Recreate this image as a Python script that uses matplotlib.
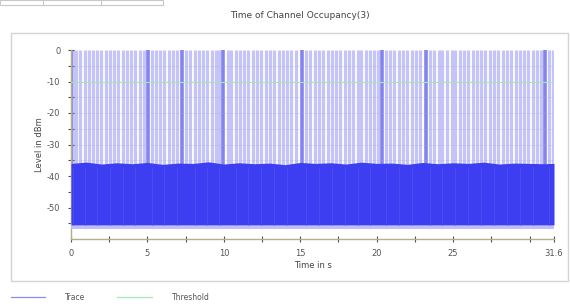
import matplotlib
matplotlib.use("Agg")
import matplotlib.pyplot as plt
from matplotlib.lines import Line2D
from matplotlib.patches import Rectangle

plt.rcParams["axes.unicode_minus"] = False

# values
title = "Time of Channel Occupancy(3)"
x_ticks = [0, 5, 10, 15, 20, 25, 31.6]
x_tick_labels = ["0", "5", "10", "15", "20", "25", "31.6"]
x_minor = [2.5, 7.5, 12.5, 17.5, 22.5, 27.5, 30]
y_ticks = [0, -10, -20, -30, -40, -50]
y_minor = [-5, -15, -25, -35, -45, -55]
threshold = -10

# noise floor of the trace (top edge sampled once per second, bottom flat)
band_t = [0, 1, 2, 3, 4, 5, 6, 7, 8, 9, 10, 11, 12, 13, 14, 15, 16,
          17, 18, 19, 20, 21, 22, 23, 24, 25, 26, 27, 28, 29, 30, 31, 31.6]
band_top = [-36.0, -35.6, -36.2, -35.8, -36.1, -35.7, -36.3, -35.9, -36.0,
            -35.5, -36.2, -35.8, -36.1, -35.9, -36.4, -35.7, -36.0, -35.8,
            -36.2, -35.6, -36.0, -35.9, -36.3, -35.7, -36.1, -35.8, -36.0,
            -35.6, -36.2, -35.9, -36.0, -36.1, -36.0]
band_bottom = -55.5

# short bursts reaching 0 dBm (light) and the stronger ones (dark)
light_spikes = [0.1, 0.35, 0.6, 0.9, 1.15, 1.45, 1.7, 1.95, 2.3, 2.55, 2.8,
                3.1, 3.4, 3.65, 3.9, 4.2, 4.5, 4.75, 5.3, 5.55, 5.85, 6.1,
                6.4, 6.7, 6.95, 7.55, 7.8, 8.1, 8.35, 8.65, 8.9, 9.2, 9.5,
                9.7, 10.25, 10.5, 10.8, 11.05, 11.35, 11.6, 11.9, 12.2,
                12.45, 12.75, 13.0, 13.3, 13.6, 13.85, 14.15, 14.4, 14.7,
                15.4, 15.65, 15.95, 16.2, 16.5, 16.8, 17.05, 17.35, 17.6,
                17.9, 18.2, 18.45, 18.75, 19.0, 19.3, 19.55, 19.85, 20.1,
                20.6, 20.9, 21.15, 21.45, 21.7, 22.0, 22.3, 22.55, 22.85,
                23.5, 23.75, 24.05, 24.3, 24.6, 24.9, 25.15, 25.45, 25.7,
                26.0, 26.3, 26.55, 26.85, 27.1, 27.4, 27.7, 27.95, 28.25,
                28.5, 28.8, 29.1, 29.35, 29.65, 29.9, 30.2, 30.5, 30.75,
                31.3, 31.55]
dark_spikes = [0.02, 5.04, 7.26, 9.95, 15.1, 20.35, 23.2, 31.0]
spike_top = 0

fig = plt.figure(figsize=(5.7, 3.06), dpi=100)
W, H = 570, 306

# toolbar remnant top left + the panel frame
fig.add_artist(Rectangle((0 / W, 1 - 5 / H), 163 / W, 5 / H, transform=fig.transFigure,
                         fill=False, ec="#c8c8c8", lw=0.8))
for xd in (43, 101):
    fig.add_artist(Line2D([xd / W, xd / W], [1 - 5 / H, 1], transform=fig.transFigure,
                          color="#c8c8c8", lw=0.8))
fig.add_artist(Rectangle((11 / W, 1 - 281 / H), 557 / W, 248 / H, transform=fig.transFigure,
                         fill=False, ec="#d4d4d4", lw=1.0))

ax = fig.add_axes([71 / W, 1 - 239 / H, 483 / W, 189 / H])

ax.vlines(light_spikes, band_bottom, spike_top, color="#c4c4f8", lw=2.3, zorder=1)
ax.vlines(dark_spikes, band_bottom, spike_top, color="#8484ee", lw=2.6, zorder=2)
for yy in y_minor + y_ticks[1:]:
    ax.axhline(yy, color="#a8a8f0", lw=0.5, alpha=0.35, zorder=2)
ax.fill_between(band_t, band_bottom - 1.2, band_bottom + 0.5,
                color="#c0c0f6", lw=0, zorder=3)
ax.fill_between(band_t, band_bottom, band_top,
                color="#3d3df2", lw=0, zorder=4)
ax.vlines(light_spikes[::3], band_bottom, -37, color="#4a4af2", lw=0.8, zorder=4)
ax.axhline(threshold, color="#a6e6b6", lw=0.8, zorder=5)

ax.set_xlim(0, 31.6)
ax.set_ylim(-60, 0)
ax.set_xticks(x_ticks)
ax.set_xticklabels(x_tick_labels)
ax.set_xticks(x_minor, minor=True)
ax.set_yticks(y_ticks)
ax.set_yticks(y_minor, minor=True)

for s in ("top", "right"):
    ax.spines[s].set_visible(False)
for s in ("left", "bottom"):
    ax.spines[s].set_color("#b6ae86")
    ax.spines[s].set_linewidth(1.0)
ax.tick_params(which="both", direction="inout", length=5, width=0.8,
               color="#505050", labelsize=6, labelcolor="#555555", pad=5)
ax.set_xlabel("Time in s", fontsize=6, color="#444444", labelpad=2)
ax.set_ylabel("Level in dBm", fontsize=6, color="#444444", labelpad=2)

fig.text(300 / W, 1 - 15 / H, title, fontsize=6.5, color="#444444",
         ha="center", va="center")

handles = [Line2D([], [], color="#8c8cf0", lw=0.9),
           Line2D([], [], color="#a6e6b6", lw=0.9)]
fig.legend(handles, ["Trace", "Threshold"], loc="center left",
           bbox_to_anchor=(4 / W, 1 - 297 / H), ncol=2, frameon=False,
           fontsize=5.5, handlelength=4.5, handletextpad=2.6,
           columnspacing=4.2, labelcolor="#555555")

fig.savefig("out.png", dpi=100)
